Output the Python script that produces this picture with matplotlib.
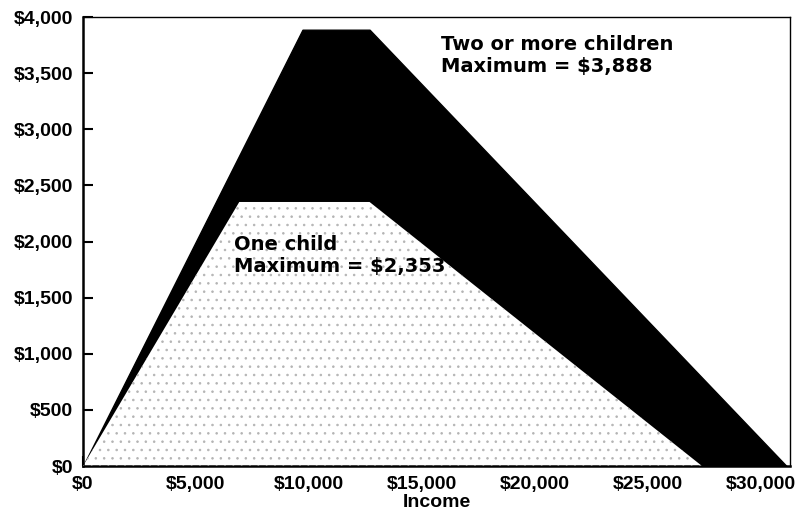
import matplotlib as mpl
mpl.use('Agg')
import matplotlib.pyplot as plt
from matplotlib.ticker import FuncFormatter

# EITC schedule (credit by income)
income_two = [0, 9720, 12690, 31152]
credit_two = [0, 3888, 3888, 0]
income_one = [0, 6920, 12690, 27413]
credit_one = [0, 2353, 2353, 0]

x_ticks = [0, 5000, 10000, 15000, 20000, 25000, 30000]
y_ticks = [0, 500, 1000, 1500, 2000, 2500, 3000, 3500, 4000]

plt.rcParams['font.family'] = ['Liberation Sans', 'DejaVu Sans']
plt.rcParams['font.weight'] = 'bold'
plt.rcParams['hatch.linewidth'] = 0.6

fig = plt.figure(figsize=(8.01, 5.19), dpi=100)
ax = fig.add_axes([0.1036, 0.102, 0.8825, 0.865])

ax.fill_between(income_two, credit_two, 0, facecolor='black',
                edgecolor='black', linewidth=1)
ax.fill_between(income_one, credit_one, 0, facecolor='white',
                edgecolor='none', linewidth=0, zorder=2)
ax.fill_between(income_one, credit_one, 0, facecolor='none',
                edgecolor='#b4b4b4', hatch='..', linewidth=0, zorder=3)

ax.text(15850, 3845, 'Two or more children\nMaximum = $3,888',
        family='DejaVu Sans', fontsize=14, fontweight='bold',
        va='top', ha='left', linespacing=1.2)
ax.text(6700, 2058, 'One child\nMaximum = $2,353',
        family='DejaVu Sans', fontsize=14, fontweight='bold',
        va='top', ha='left', linespacing=1.2, zorder=4)

ax.set_xlim(0, 31300)
ax.set_ylim(0, 4000)
ax.set_xticks(x_ticks)
ax.set_yticks(y_ticks)
money = FuncFormatter(lambda v, p: '${:,.0f}'.format(v))
ax.xaxis.set_major_formatter(money)
ax.yaxis.set_major_formatter(money)
ax.tick_params(direction='in', length=7, width=1.5, labelsize=14, pad=7)
for lab in ax.get_xticklabels() + ax.get_yticklabels():
    lab.set_fontweight('bold')

for side in ('left', 'bottom'):
    ax.spines[side].set_linewidth(1.8)
for side in ('top', 'right'):
    ax.spines[side].set_linewidth(1.0)

ax.set_xlabel('Income', fontsize=14, fontweight='bold', labelpad=1)

fig.savefig('out.png', dpi=100)
